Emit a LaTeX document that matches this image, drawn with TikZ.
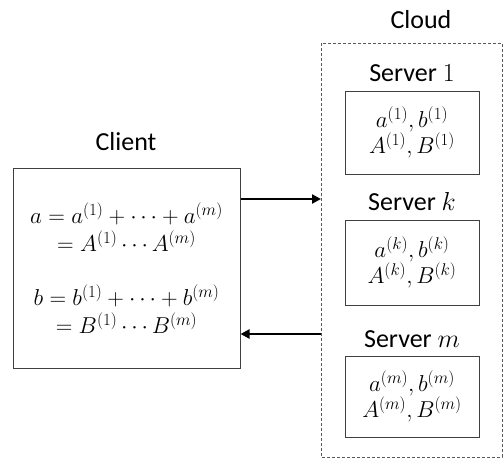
\documentclass[tikz,border=0pt]{standalone}
\usepackage{fix-cm}
\usepackage{fontspec}
\setmainfont{Carlito}
\DeclareMathSizes{23}{23}{17}{13}
\usetikzlibrary{arrows.meta}
\begin{document}
\begin{tikzpicture}[x=1pt,y=-1pt,
  lbl/.style={font=\fontsize{26}{30}\selectfont, anchor=base, inner sep=0pt},
  clientbox/.style={draw=black!75, line width=1pt, minimum width=227pt, minimum height=200pt, inner sep=0pt, align=center, font=\fontsize{23}{28}\selectfont},
  serverbox/.style={draw=black!75, line width=1pt, minimum width=134pt, inner sep=0pt, align=center, font=\fontsize{23}{26}\selectfont},
  cloudbox/.style={draw=black!65, dash pattern=on 3pt off 2pt, line width=0.8pt},
  flow/.style={line width=2.6pt, -{Triangle[length=9pt,width=9pt]}}
]
\useasboundingbox (0,0) rectangle (503,459);
% client
\node[clientbox] (client) at (126.5,268) {$a = a^{(1)} + \cdots + a^{(m)}$\\ $= A^{(1)} \cdots A^{(m)}$\\[26pt] $b = b^{(1)} + \cdots + b^{(m)}$\\ $= B^{(1)} \cdots B^{(m)}$};
\node[lbl] (clientlbl) at (126,150) {Client};
% cloud
\draw[cloudbox] (321,43) rectangle (502,457);
\coordinate (cloudin) at (321,199);
\coordinate (cloudout) at (321,334);
\node[lbl] (cloudlbl) at (421,28) {Cloud};
% servers
\node[serverbox, minimum height=83pt] (s1) at (412,132.5) {$a^{(1)}, b^{(1)}$\\ $A^{(1)}, B^{(1)}$};
\node[lbl] (s1lbl) at (412,81.5) {Server $1$};
\node[serverbox, minimum height=85pt] (sk) at (412,262.5) {$a^{(k)}, b^{(k)}$\\ $A^{(k)}, B^{(k)}$};
\node[lbl] (sklbl) at (412,210) {Server $k$};
\node[serverbox, minimum height=81pt] (sm) at (412,396.5) {$a^{(m)}, b^{(m)}$\\ $A^{(m)}, B^{(m)}$};
\node[lbl] (smlbl) at (412,347) {Server $m$};
% arrows
\draw[flow] (client.east |- cloudin) -- (cloudin);
\draw[flow] (cloudout) -- (client.east |- cloudout);
\end{tikzpicture}
\end{document}
